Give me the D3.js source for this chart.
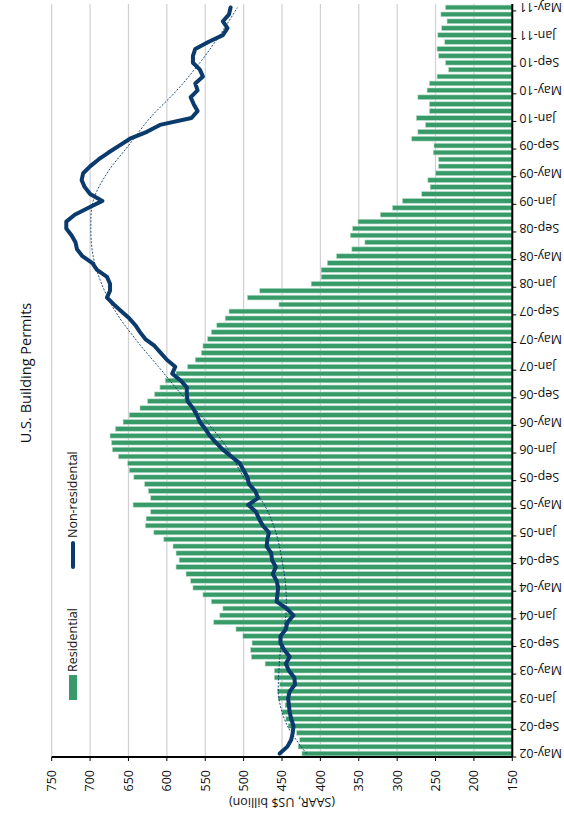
<!DOCTYPE html>
<html>
<head>
<meta charset="utf-8">
<script src="https://cdn.jsdelivr.net/npm/d3@7"></script>
<style>
    html, body { margin: 0; padding: 0; background: #fff; }
    svg { display: block; font-family: "Open Sans", sans-serif; }
</style>
</head>
<body>
<div id="chart"></div>
<script>
"use strict";

// monthly categories, May-02 .. May-11
let months = d3.timeMonth.range(new Date(2002, 4, 1), new Date(2011, 5, 1))
    .map(d3.timeFormat("%b-%y"));

// residential permits (bars), SAAR US$ bn
let residential = [
    424, 429, 427, 431, 442, 445, 450, 446, 455, 456, 453, 460, 460, 472, 490, 491,
    489, 501, 510, 539, 531, 527, 542, 553, 566, 569, 575, 588, 584, 588, 592, 604,
    617, 628, 627, 621, 644, 621, 624, 629, 643, 649, 651, 663, 671, 672, 674, 667,
    657, 649, 635, 625, 616, 609, 602, 588, 573, 563, 555, 553, 547, 542, 535, 524,
    519, 454, 495, 479, 412, 399, 399, 391, 379, 359, 342, 361, 358, 351, 322, 306,
    293, 268, 257, 260, 250, 246, 246, 253, 252, 281, 273, 263, 275, 258, 258, 273,
    261, 258, 248, 233, 237, 246, 248, 238, 247, 242, 235, 243, 237
];

// non-residential permits (line)
let nonResidential = [
    453, 443, 438, 436, 435, 438, 440, 441, 442, 440, 433, 434, 441, 445, 440, 447,
    452, 452, 445, 443, 435, 444, 457, 456, 455, 457, 462, 458, 463, 464, 470, 469,
    467, 475, 480, 484, 494, 481, 485, 493, 495, 500, 505, 516, 527, 536, 544, 550,
    557, 561, 566, 573, 574, 574, 582, 593, 589, 600, 608, 616, 628, 635, 641, 649,
    659, 669, 678, 674, 674, 678, 691, 697, 710, 717, 719, 724, 731, 731, 720, 702,
    684, 700, 707, 711, 709, 700, 689, 676, 662, 648, 626, 609, 568, 560, 565, 569,
    560, 563, 553, 557, 566, 566, 563, 546, 527, 521, 527, 519, 517
];

// dotted trend of the non-residential line, read every 4th month
let trendValues = [
    418, 443, 454, 454, 451, 445, 445, 450, 458, 473, 500, 520, 548, 581,
    611, 641, 667, 685, 696, 699, 696, 678, 650, 622, 587, 557, 531, 508
];

let valueTicks = d3.range(150, 751, 50);

let chartTitle = "U.S. Building Permits";
let axisTitle = "(SAAR, US$ billion)";
let legendNames = ["Residential", "Non-residental"];

let colors = {
    bar: "#379a69",
    barEdge: "#b5dbc4",
    line: "#0b3a6c",
    grid: "#d0d0d0",
    text: "#111"
};

// the chart is laid out landscape and then turned a quarter turn counter-clockwise
let W = 815, H = 564;
let plot = { left: 58, right: 811, top: 51.7, bottom: 512.3 };

let svg = d3.select("#chart").append("svg")
    .attr("width", 564)
    .attr("height", 815);

let g = svg.append("g")
    .attr("transform", "translate(0," + W + ") rotate(-90)");

let x = d3.scaleBand()
    .domain(months)
    .range([plot.left, plot.right])
    .paddingInner(0.32)
    .paddingOuter(0.16);

let y = d3.scaleLinear()
    .domain([150, 750])
    .range([plot.bottom, plot.top]);

let bw = x.bandwidth();
let step = x.step();

drawGrid();
drawBars();
drawLines();
drawAxes();
drawLabels();

function drawGrid() {
    g.append("g").selectAll("line")
        .data(valueTicks.filter(v => v > 150))
        .enter().append("line")
        .attr("x1", plot.left)
        .attr("x2", plot.right)
        .attr("y1", d => y(d))
        .attr("y2", d => y(d))
        .style("stroke", colors.grid)
        .style("stroke-width", 1.2);
}

function drawBars() {
    g.append("g").selectAll("rect")
        .data(residential)
        .enter().append("rect")
        .attr("x", (d, i) => x(months[i]))
        .attr("y", d => y(d))
        .attr("width", bw)
        .attr("height", d => y(150) - y(d))
        .style("fill", colors.bar)
        .style("stroke", colors.barEdge)
        .style("stroke-width", 0.6);
}

function drawLines() {
    let line = d3.line()
        .x((d, i) => x(months[i]) + bw / 2)
        .y(d => y(d));

    g.append("path")
        .datum(nonResidential)
        .attr("d", line)
        .style("fill", "none")
        .style("stroke", colors.line)
        .style("stroke-width", 4)
        .style("stroke-linejoin", "round")
        .style("stroke-linecap", "round");

    let trend = d3.line()
        .x((d, i) => x(months[i * 4]) + bw / 2)
        .y(d => y(d))
        .curve(d3.curveCatmullRom);

    g.append("path")
        .datum(trendValues)
        .attr("d", trend)
        .style("fill", "none")
        .style("stroke", colors.line)
        .style("stroke-width", 0.9)
        .style("stroke-dasharray", "2,1.5");
}

function drawAxes() {
    // value axis (left in landscape)
    g.append("line")
        .attr("x1", plot.left).attr("x2", plot.left)
        .attr("y1", plot.top).attr("y2", plot.bottom)
        .style("stroke", "#000")
        .style("stroke-width", 1.8);

    g.append("g").selectAll("line")
        .data(valueTicks)
        .enter().append("line")
        .attr("x1", plot.left - 4).attr("x2", plot.left)
        .attr("y1", d => y(d)).attr("y2", d => y(d))
        .style("stroke", "#000")
        .style("stroke-width", 1);

    g.append("g").selectAll("text")
        .data(valueTicks)
        .enter().append("text")
        .attr("x", plot.left - 13)
        .attr("y", d => y(d))
        .attr("dy", "0.35em")
        .attr("text-anchor", "end")
        .style("font-size", "12.5px")
        .style("fill", colors.text)
        .text(d => d);

    // category axis (bottom in landscape)
    g.append("line")
        .attr("x1", plot.left).attr("x2", plot.right)
        .attr("y1", plot.bottom).attr("y2", plot.bottom)
        .style("stroke", "#000")
        .style("stroke-width", 2);

    let labelled = months.filter((m, i) => i % 4 === 0);

    g.append("g").selectAll("line")
        .data(labelled)
        .enter().append("line")
        .attr("x1", d => x(d) - (step - bw) / 2)
        .attr("x2", d => x(d) - (step - bw) / 2)
        .attr("y1", plot.bottom)
        .attr("y2", plot.bottom + 4)
        .style("stroke", "#000")
        .style("stroke-width", 1);

    g.append("g").selectAll("text")
        .data(labelled)
        .enter().append("text")
        .attr("transform", d => "translate(" + (x(d) + bw / 2) + "," + (plot.bottom + 7) + ") rotate(-90)")
        .attr("dy", "0.35em")
        .attr("text-anchor", "end")
        .style("font-size", "12.5px")
        .style("fill", colors.text)
        .text(d => d);

    g.append("text")
        .attr("transform", "translate(17," + ((plot.top + plot.bottom) / 2) + ") rotate(-90)")
        .attr("text-anchor", "middle")
        .style("font-size", "12.5px")
        .style("fill", colors.text)
        .text(axisTitle);
}

function drawLabels() {
    g.append("text")
        .attr("x", 442)
        .attr("y", 31)
        .attr("text-anchor", "middle")
        .style("font-size", "14.5px")
        .style("fill", colors.text)
        .text(chartTitle);

    let legend = g.append("g");

    legend.append("rect")
        .attr("x", 115).attr("y", 69)
        .attr("width", 25).attr("height", 8)
        .style("fill", colors.bar);

    legend.append("text")
        .attr("x", 143).attr("y", 73)
        .attr("dy", "0.35em")
        .style("font-size", "12.5px")
        .style("fill", colors.text)
        .text(legendNames[0]);

    legend.append("line")
        .attr("x1", 248).attr("x2", 272)
        .attr("y1", 73).attr("y2", 73)
        .style("stroke", colors.line)
        .style("stroke-width", 4)
        .style("stroke-linecap", "round");

    legend.append("text")
        .attr("x", 277).attr("y", 73)
        .attr("dy", "0.35em")
        .style("font-size", "12.5px")
        .style("fill", colors.text)
        .text(legendNames[1]);
}
</script>
</body>
</html>
